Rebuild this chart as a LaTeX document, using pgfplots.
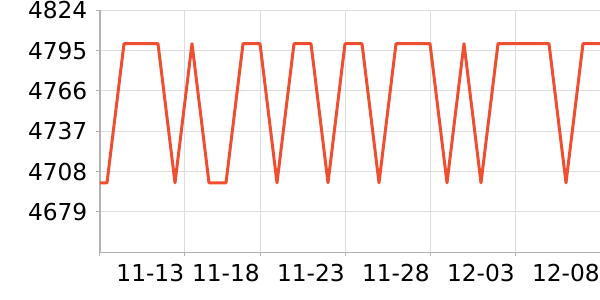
\documentclass[border=0pt]{standalone}
\usepackage{pgfplots}
\pgfplotsset{compat=1.18}
\usepackage{fontspec}
\setmainfont{DejaVu Sans}
\definecolor{ln}{RGB}{240,78,48}
\definecolor{gridc}{RGB}{221,221,221}
\definecolor{axc}{RGB}{178,178,178}
\begin{document}
\begin{tikzpicture}
\begin{axis}[
  at={(0,0)}, anchor=south west,
  scale only axis, width=500bp, height=242bp,
  xmin=-0.4118, xmax=29, ymin=4650, ymax=4824,
  axis x line=bottom, axis y line=left,
  axis line style={draw=axc, line width=1.2bp, -},
  xtick={-0.4118,4.55,9,14,19,24,29},
  xticklabels={,11-13,11-18,11-23,11-28,12-03,12-08},
  ytick={4679,4708,4737,4766,4795,4824},
  grid=major, grid style={draw=gridc, line width=1bp},
  tick style={draw=axc, line width=1bp},
  major tick length=3.5bp, tick align=outside,
  /pgf/number format/1000 sep={},
  /pgf/number format/assume math mode=true,
  ticklabel style={font=\fontsize{23.3bp}{28bp}\selectfont},
  xticklabel style={anchor=north east, inner xsep=0pt, yshift=-5bp},
  yticklabel style={anchor=east, inner xsep=0pt, xshift=-9bp},
  clip=true,
]
\addplot[ln, line width=3bp, line join=round] coordinates {
(-1,4700)(0,4700)(1,4800)(2,4800)(3,4800)(4,4700)(5,4800)(6,4700)(7,4700)
(8,4800)(9,4800)(10,4700)(11,4800)(12,4800)(13,4700)(14,4800)(15,4800)
(16,4700)(17,4800)(18,4800)(19,4800)(20,4700)(21,4800)(22,4700)(23,4800)
(24,4800)(25,4800)(26,4800)(27,4700)(28,4800)(29,4800)
};
\end{axis}
\pgfresetboundingbox
\path[use as bounding box] (-100bp,-47.7bp) rectangle (500bp,252.3bp);
\end{tikzpicture}
\end{document}
